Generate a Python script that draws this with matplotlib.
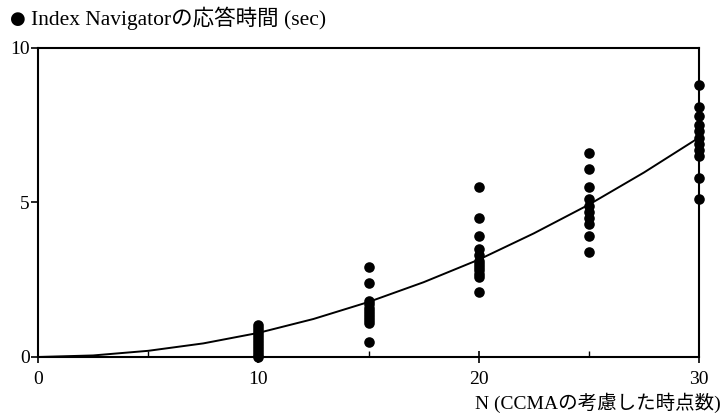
import matplotlib
matplotlib.use("Agg")
import matplotlib.pyplot as plt
from matplotlib.ticker import MultipleLocator

plt.rcParams['font.family'] = ['Liberation Serif', 'Noto Sans CJK JP', 'DejaVu Sans']

# measured response times (sec) per N
n10 = [1.05, 0.95, 0.85, 0.75, 0.65, 0.55, 0.45, 0.35, 0.25, 0.15, 0.05, 0.0]
n15 = [2.9, 2.4, 1.8, 1.7, 1.6, 1.5, 1.4, 1.3, 1.2, 1.1, 0.5]
n20 = [5.5, 4.5, 3.9, 3.5, 3.3, 3.1, 3.0, 2.9, 2.8, 2.7, 2.6, 2.1]
n25 = [6.6, 6.1, 5.5, 5.1, 4.9, 4.7, 4.5, 4.3, 3.9, 3.4]
n30 = [8.8, 8.1, 7.8, 7.5, 7.3, 7.1, 6.9, 6.7, 6.5, 5.8, 5.1]
groups = {10: n10, 15: n15, 20: n20, 25: n25, 30: n30}

# fitted curve
curve_x = [0, 2.5, 5, 7.5, 10, 12.5, 15, 17.5, 20, 22.5, 25, 27.5, 30]
curve_y = [0, 0.05, 0.2, 0.44, 0.78, 1.23, 1.78, 2.42, 3.15, 4.0, 4.93, 5.97, 7.1]

fig = plt.figure(figsize=(7.27, 4.17), dpi=100)
ax = fig.add_axes([0.0523, 0.1439, 0.9092, 0.741])

for n, vals in groups.items():
    ax.scatter([n] * len(vals), vals, s=58, color='black', zorder=3,
               linewidths=0, clip_on=False)

ax.plot(curve_x, curve_y, color='black', lw=1.4, zorder=2)

ax.set_xlim(0, 30)
ax.set_ylim(0, 10)
ax.set_xticks([0, 10, 20, 30])
ax.set_yticks([0, 5, 10])
ax.xaxis.set_minor_locator(MultipleLocator(5))
ax.tick_params(axis='x', which='major', direction='inout', length=8, width=1.2,
               labelsize=14, pad=6)
ax.tick_params(axis='x', which='minor', direction='in', length=4, width=1.0)
ax.tick_params(axis='y', which='major', direction='out', length=5, width=1.2,
               labelsize=14, pad=1)
for sp in ax.spines.values():
    sp.set_linewidth(1.5)

fig.text(0.014, 0.955, '●', fontsize=13, family='DejaVu Sans', va='center', ha='left')
fig.text(0.042, 0.955, 'Index Navigatorの応答時間 (sec)', fontsize=15.5, va='center', ha='left')
fig.text(0.992, 0.035, 'N (CCMAの考慮した時点数)', fontsize=14, va='center', ha='right')

fig.savefig('out.png', dpi=100)
